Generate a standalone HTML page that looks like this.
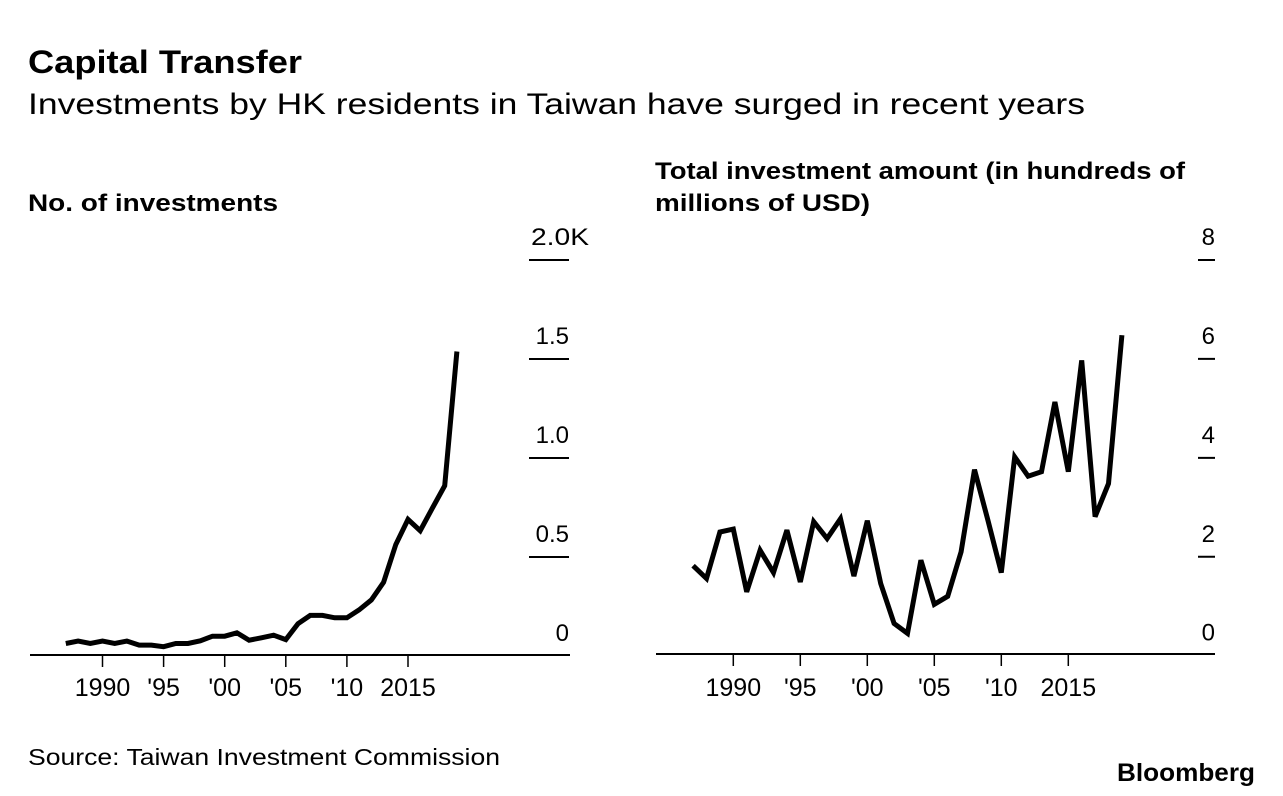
<!DOCTYPE html>
<html><head><meta charset="utf-8"><style>
body{margin:0;background:#fff;}
svg{display:block;font-family:"Liberation Sans",Arial,sans-serif;}
</style></head><body>
<svg id="c" width="1283" height="796">
<text x="28" y="73" font-size="32" font-weight="bold" fill="#000" textLength="274" lengthAdjust="spacingAndGlyphs">Capital Transfer</text>
<text x="28" y="114" font-size="30" fill="#000" textLength="1057" lengthAdjust="spacingAndGlyphs">Investments by HK residents in Taiwan have surged in recent years</text>
<text x="28" y="211" font-size="24" font-weight="bold" textLength="250" lengthAdjust="spacingAndGlyphs">No. of investments</text>
<text x="655" y="179" font-size="24" font-weight="bold" textLength="530" lengthAdjust="spacingAndGlyphs">Total investment amount (in hundreds of</text>
<text x="655" y="211" font-size="24" font-weight="bold" textLength="215" lengthAdjust="spacingAndGlyphs">millions of USD)</text>
<text x="28" y="765" font-size="23" textLength="472" lengthAdjust="spacingAndGlyphs">Source: Taiwan Investment Commission</text>
<text x="1255" y="781" font-size="25" font-weight="bold" text-anchor="end" textLength="138" lengthAdjust="spacingAndGlyphs">Bloomberg</text>
<g id="left"></g><g id="right"></g>
</svg>
<script>
const years=[1987,1988,1989,1990,1991,1992,1993,1994,1995,1996,1997,1998,1999,2000,2001,2002,2003,2004,2005,2006,2007,2008,2009,2010,2011,2012,2013,2014,2015,2016,2017,2018,2019];
const countValues=[0.063,0.075,0.063,0.075,0.063,0.075,0.055,0.055,0.047,0.063,0.063,0.077,0.10,0.10,0.117,0.08,0.092,0.105,0.083,0.163,0.205,0.205,0.193,0.193,0.233,0.283,0.372,0.563,0.69,0.633,0.747,0.86,1.538];
const amountValues=[1.82,1.56,2.5,2.56,1.29,2.13,1.68,2.54,1.49,2.71,2.37,2.77,1.61,2.73,1.46,0.65,0.45,1.93,1.04,1.2,2.1,3.76,2.74,1.68,4.02,3.63,3.72,5.13,3.72,5.97,2.81,3.48,6.48];
const xTickYears=[1990,1995,2000,2005,2010,2015];
const xTickLabels=["1990","'95","'00","'05","'10","2015"];
const leftTicks=[0,0.5,1.0,1.5,2.0];
const leftTickLabels=["0","0.5","1.0","1.5","2.0K"];
const rightTicks=[0,2,4,6,8];
const rightTickLabels=["0","2","4","6","8"];
const NS="http://www.w3.org/2000/svg";
function mk(g,t,a){const e=document.createElementNS(NS,t);for(const k in a)e.setAttribute(k,a[k]);g.appendChild(e);return e;}
function panel(gid,cfg,vals,ticks,labels,pref){
  const g=document.getElementById(gid);
  const x=y=>cfg.x0+(y-1990)*cfg.dx;
  const yS=v=>cfg.y0-(v/cfg.vmax)*(cfg.y0-cfg.yTop);
  ticks.forEach((t,i)=>{
    if(t!==0){const l=mk(g,'line',{x1:cfg.tx1,x2:cfg.tx2,y1:yS(t),y2:yS(t),stroke:'#000','stroke-width':2});
    
    }
    const lab=labels[i];
    let tx;
    if(lab.endsWith('K')) tx=mk(g,'text',{x:cfg.labStart,y:yS(t)-15,'font-size':24,textLength:58,lengthAdjust:'spacingAndGlyphs'});
    else tx=mk(g,'text',{x:cfg.tx2,y:yS(t)-15,'font-size':24,'text-anchor':'end'});
    tx.textContent=lab;
    
    
  });
  const ax=mk(g,'line',{x1:cfg.ax1,x2:cfg.ax2,y1:cfg.base,y2:cfg.base,stroke:'#000','stroke-width':2});
  
  
  xTickYears.forEach((yr,i)=>{
    const t=mk(g,'line',{x1:x(yr),x2:x(yr),y1:cfg.base,y2:cfg.base+12,stroke:'#000','stroke-width':1.5});
    
    
    const tx=mk(g,'text',{x:x(yr),y:696,'font-size':25,'text-anchor':'middle'});
    tx.textContent=xTickLabels[i];
    
    
  });
  const d=vals.map((v,i)=>(i?'L':'M')+x(years[i]).toFixed(1)+','+yS(v).toFixed(1)).join('');
  const p=mk(g,'path',{d:d,fill:'none',stroke:'#000','stroke-width':5,'stroke-linejoin':'miter','stroke-miterlimit':3});
  
  
}
panel('left',{x0:102.5,dx:12.22,y0:656,yTop:260,vmax:2.0,tx1:529,tx2:569,labStart:531,ax1:30,ax2:570,base:655},countValues,leftTicks,leftTickLabels,'left');
panel('right',{x0:733.3,dx:13.4,y0:655.7,yTop:260,vmax:8,tx1:1198,tx2:1215,labStart:1200,ax1:656,ax2:1215,base:654},amountValues,rightTicks,rightTickLabels,'right');
</script>
</body></html>
